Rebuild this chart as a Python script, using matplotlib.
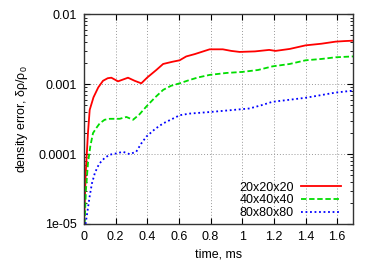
import numpy as np
import matplotlib
matplotlib.use("Agg")
import matplotlib.pyplot as plt
from matplotlib.ticker import FixedLocator, LogLocator, NullFormatter

plt.rcParams['font.family'] = ['Liberation Sans', 'DejaVu Sans']
plt.rcParams['mathtext.fontset'] = 'custom'
plt.rcParams['mathtext.rm'] = 'Liberation Sans'
plt.rcParams['mathtext.it'] = 'Liberation Sans'

# Kurven
t_red = [0.0, 0.011, 0.025, 0.036, 0.06, 0.09, 0.12, 0.15, 0.173, 0.215, 0.278, 0.32, 0.362, 0.40,
         0.457, 0.5, 0.56, 0.604, 0.646, 0.70, 0.794, 0.877, 0.93, 0.983, 1.08, 1.17, 1.21, 1.30,
         1.40, 1.50, 1.59, 1.65, 1.70]
y_red = [1e-5, 5.4e-5, 2e-4, 4.3e-4, 6.5e-4, 9e-4, 1.12e-3, 1.22e-3, 1.24e-3, 1.1e-3, 1.24e-3, 1.12e-3,
         1.03e-3, 1.25e-3, 1.6e-3, 1.95e-3, 2.1e-3, 2.2e-3, 2.5e-3, 2.7e-3, 3.16e-3, 3.16e-3, 3.0e-3,
         2.9e-3, 2.95e-3, 3.1e-3, 3.0e-3, 3.2e-3, 3.6e-3, 3.8e-3, 4.07e-3, 4.15e-3, 4.2e-3]

t_green = [0.004, 0.012, 0.025, 0.04, 0.057, 0.08, 0.099, 0.13, 0.162, 0.225, 0.268, 0.31, 0.35, 0.394,
           0.45, 0.5, 0.55, 0.604, 0.667, 0.72, 0.794, 0.9, 1.0, 1.1, 1.19, 1.3, 1.40, 1.5, 1.59, 1.70]
y_green = [1e-5, 3e-5, 7.4e-5, 1.3e-4, 2e-4, 2.4e-4, 2.75e-4, 3.1e-4, 3.2e-4, 3.2e-4, 3.4e-4, 3.1e-4,
           3.7e-4, 4.8e-4, 6.5e-4, 8.3e-4, 9.5e-4, 1.03e-3, 1.15e-3, 1.25e-3, 1.36e-3, 1.45e-3, 1.5e-3,
           1.6e-3, 1.8e-3, 1.95e-3, 2.2e-3, 2.3e-3, 2.43e-3, 2.5e-3]

t_blue = [0.01, 0.036, 0.05, 0.068, 0.085, 0.099, 0.13, 0.162, 0.2, 0.246, 0.288, 0.33, 0.36, 0.394,
          0.45, 0.5, 0.583, 0.604, 0.667, 0.794, 0.9, 1.046, 1.12, 1.19, 1.3, 1.40, 1.5, 1.59, 1.70]
y_blue = [1e-5, 2.5e-5, 3.8e-5, 5.3e-5, 6.5e-5, 7.4e-5, 8.8e-5, 9.8e-5, 1.02e-4, 1.08e-4, 1.0e-4, 1.08e-4,
          1.4e-4, 1.78e-4, 2.3e-4, 2.75e-4, 3.4e-4, 3.6e-4, 3.8e-4, 4.0e-4, 4.2e-4, 4.5e-4, 5.0e-4,
          5.6e-4, 6.0e-4, 6.4e-4, 7.0e-4, 7.6e-4, 8.1e-4]

labels = ['20x20x20', '40x40x40', '80x80x80']
x_ticks = [0, 0.2, 0.4, 0.6, 0.8, 1.0, 1.2, 1.4, 1.6]
x_ticklabels = ['0', '0.2', '0.4', '0.6', '0.8', '1', '1.2', '1.4', '1.6']
y_ticks = [1e-5, 1e-4, 1e-3, 1e-2]
y_ticklabels = ['1e-05', '0.0001', '0.001', '0.01']

fig = plt.figure(figsize=(3.74, 2.61), dpi=100)
ax = fig.add_axes([0.2246, 0.1418, 0.944 - 0.2246, 0.945 - 0.1418])

ax.plot(t_red, y_red, color='#ff0000', lw=1.3, ls='-', label=labels[0])
ax.plot(t_green, y_green, color='#00dd00', lw=1.3, ls=(0, (3, 1.5)), label=labels[1])
ax.plot(t_blue, y_blue, color='#0000ff', lw=1.3, ls=(0, (1, 1.5)), label=labels[2])

ax.set_yscale('log')
ax.set_xlim(0, 1.7)
ax.set_ylim(1e-5, 1e-2)
ax.xaxis.set_major_locator(FixedLocator(x_ticks))
ax.set_xticklabels(x_ticklabels)
ax.yaxis.set_major_locator(FixedLocator(y_ticks))
ax.set_yticklabels(y_ticklabels)
ax.yaxis.set_minor_locator(LogLocator(base=10, subs=np.arange(2, 10)))
ax.yaxis.set_minor_formatter(NullFormatter())

ax.tick_params(which='both', direction='in', top=True, right=True, labelsize=9, colors='black')
ax.tick_params(which='major', length=4, width=0.8, pad=5)
ax.tick_params(which='minor', length=2, width=0.6)
ax.grid(True, which='major', ls=(0, (1, 2)), color='#999999', lw=0.7)
for s in ax.spines.values():
    s.set_color('#333333')
    s.set_linewidth(1.0)

ax.set_xlabel('time, ms', fontsize=9)
ax.set_ylabel(r'density error, δ$\rho$/$\rho_0$', fontsize=9, labelpad=6)

ax.legend(loc='lower right', frameon=False, fontsize=9, markerfirst=False,
          handlelength=3.2, labelspacing=0.05, borderaxespad=0.0, handletextpad=0.6,
          bbox_to_anchor=(0.975, 0.0))

plt.savefig('out.png', dpi=100)
